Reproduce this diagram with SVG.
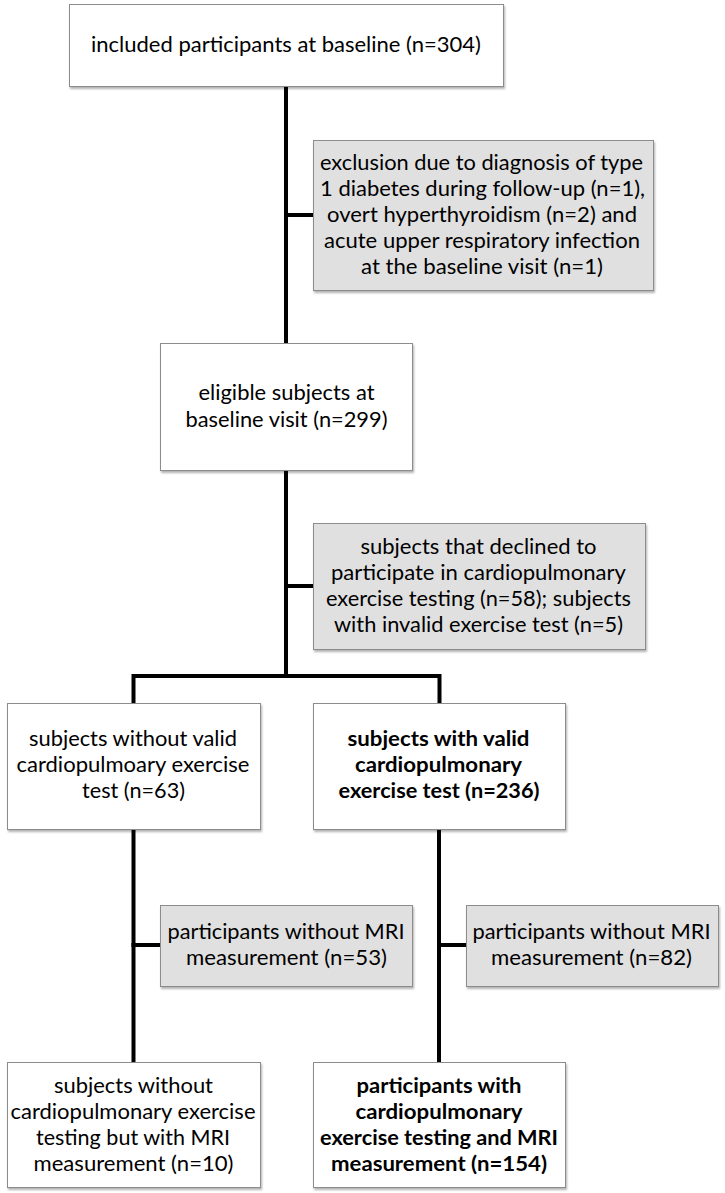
<svg xmlns="http://www.w3.org/2000/svg" width="725" height="1193" viewBox="0 0 725 1193">
<defs>
<filter id="sh" x="-5%" y="-5%" width="112%" height="115%">
<feDropShadow dx="1" dy="2" stdDeviation="1" flood-color="#000" flood-opacity="0.3"/>
</filter>
<style>
.box{fill:#ffffff;stroke:#8c8c8c;stroke-width:1;filter:url(#sh)}
.gbox{fill:#e0e0e0;stroke:#8c8c8c;stroke-width:1;filter:url(#sh)}
.t{font-family:Lato,"Open Sans","Liberation Sans",sans-serif;font-size:21px;fill:#000;text-anchor:middle}
.b{font-weight:bold}
.c{stroke:#000;stroke-width:4;fill:none;stroke-linecap:square}
</style>
</defs>
<rect width="725" height="1193" fill="#fff"/>
<g id="connectors">
<path class="c" d="M286,88 V343"/>
<path class="c" d="M286,471 V676"/>
<path class="c" d="M133.5,702 V676 H439.5 V702"/>
<path class="c" d="M286,215 H312"/>
<path class="c" d="M286,586 H312"/>
<path class="c" d="M133.5,830 V1061"/>
<path class="c" d="M439,830 V1061"/>
<path class="c" d="M133.5,945 H159"/>
<path class="c" d="M439,945 H465"/>
</g>
<g id="n1">
<rect class="box" x="69.5" y="4.5" width="434" height="82"/>
<text class="t" x="286" y="52" textLength="390" lengthAdjust="spacingAndGlyphs">included participants at baseline (n=304)</text>
</g>
<g id="x1">
<rect class="gbox" x="313.5" y="140.5" width="340" height="150"/>
<text class="t" x="481.5" y="170" textLength="323" lengthAdjust="spacingAndGlyphs">exclusion due to diagnosis of type</text>
<text class="t" x="482.5" y="196" textLength="325" lengthAdjust="spacingAndGlyphs">1 diabetes during follow-up (n=1),</text>
<text class="t" x="482" y="222" textLength="310" lengthAdjust="spacingAndGlyphs">overt hyperthyroidism (n=2) and</text>
<text class="t" x="482" y="248" textLength="316" lengthAdjust="spacingAndGlyphs">acute upper respiratory infection</text>
<text class="t" x="482" y="274" textLength="242" lengthAdjust="spacingAndGlyphs">at the baseline visit (n=1)</text>
</g>
<g id="n2">
<rect class="box" x="160.5" y="343.5" width="252" height="127"/>
<text class="t" x="286.5" y="400" textLength="176" lengthAdjust="spacingAndGlyphs">eligible subjects at</text>
<text class="t" x="286.5" y="426.5" textLength="202" lengthAdjust="spacingAndGlyphs">baseline visit (n=299)</text>
</g>
<g id="x2">
<rect class="gbox" x="313.5" y="523.5" width="332" height="126"/>
<text class="t" x="478.5" y="554" textLength="236" lengthAdjust="spacingAndGlyphs">subjects that declined to</text>
<text class="t" x="478.5" y="580" textLength="295" lengthAdjust="spacingAndGlyphs">participate in cardiopulmonary</text>
<text class="t" x="478.5" y="605.5" textLength="305" lengthAdjust="spacingAndGlyphs">exercise testing (n=58); subjects</text>
<text class="t" x="478.5" y="631.5" textLength="289" lengthAdjust="spacingAndGlyphs">with invalid exercise test (n=5)</text>
</g>
<g id="n3">
<rect class="box" x="7.5" y="703.5" width="253" height="126"/>
<text class="t" x="133" y="746" textLength="208" lengthAdjust="spacingAndGlyphs">subjects without valid</text>
<text class="t" x="133" y="772" textLength="233" lengthAdjust="spacingAndGlyphs">cardiopulmoary exercise</text>
<text class="t" x="133.5" y="798" textLength="103" lengthAdjust="spacingAndGlyphs">test (n=63)</text>
</g>
<g id="n4">
<rect class="box" x="313.5" y="703.5" width="252" height="126"/>
<text class="t b" x="438.5" y="746" textLength="182" lengthAdjust="spacingAndGlyphs">subjects with valid</text>
<text class="t b" x="438.5" y="772" textLength="167" lengthAdjust="spacingAndGlyphs">cardiopulmonary</text>
<text class="t b" x="439" y="798" textLength="201" lengthAdjust="spacingAndGlyphs">exercise test (n=236)</text>
</g>
<g id="x3">
<rect class="gbox" x="160.5" y="905.5" width="252" height="81"/>
<text class="t" x="286" y="939" textLength="237" lengthAdjust="spacingAndGlyphs">participants without MRI</text>
<text class="t" x="286.5" y="965" textLength="201" lengthAdjust="spacingAndGlyphs">measurement (n=53)</text>
</g>
<g id="x4">
<rect class="gbox" x="466.5" y="905.5" width="252" height="81"/>
<text class="t" x="591.5" y="939" textLength="238" lengthAdjust="spacingAndGlyphs">participants without MRI</text>
<text class="t" x="591.5" y="965" textLength="201" lengthAdjust="spacingAndGlyphs">measurement (n=82)</text>
</g>
<g id="n5">
<rect class="box" x="7.5" y="1062.5" width="253" height="125"/>
<text class="t" x="133.5" y="1093" textLength="159" lengthAdjust="spacingAndGlyphs">subjects without</text>
<text class="t" x="133" y="1119" textLength="245" lengthAdjust="spacingAndGlyphs">cardiopulmonary exercise</text>
<text class="t" x="133" y="1144.5" textLength="194" lengthAdjust="spacingAndGlyphs">testing but with MRI</text>
<text class="t" x="133.5" y="1170.5" textLength="200" lengthAdjust="spacingAndGlyphs">measurement (n=10)</text>
</g>
<g id="n6">
<rect class="box" x="313.5" y="1062.5" width="252" height="125"/>
<text class="t b" x="439" y="1093" textLength="165" lengthAdjust="spacingAndGlyphs">participants with</text>
<text class="t b" x="439" y="1119" textLength="167" lengthAdjust="spacingAndGlyphs">cardiopulmonary</text>
<text class="t b" x="439" y="1144.5" textLength="238" lengthAdjust="spacingAndGlyphs">exercise testing and MRI</text>
<text class="t b" x="439" y="1170.5" textLength="216" lengthAdjust="spacingAndGlyphs">measurement (n=154)</text>
</g>
</svg>
